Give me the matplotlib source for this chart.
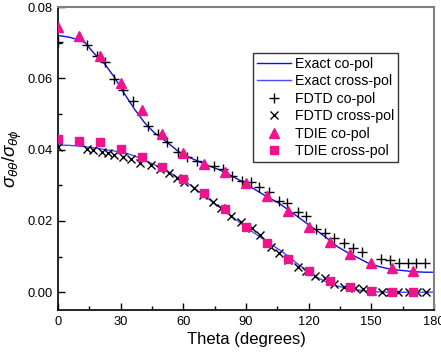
import matplotlib
matplotlib.use("Agg")
import matplotlib.pyplot as plt
from matplotlib.ticker import MultipleLocator

plt.rcParams['font.family'] = ['Liberation Sans', 'DejaVu Sans']
plt.rcParams['mathtext.fontset'] = 'custom'
plt.rcParams['mathtext.rm'] = 'Liberation Sans'
plt.rcParams['mathtext.it'] = 'Liberation Sans:italic'

# Exact solutions
exact_theta = [0, 5, 10, 13, 17.6, 22.4, 27, 32, 36.7, 41.4, 46, 52.4, 58, 63, 67.6, 72, 77, 82,
               86.7, 91, 96, 100, 105.7, 110, 115, 120, 124.8, 130, 134, 139, 143.8, 148, 153,
               158, 162.9, 168, 172, 176, 180]
exact_co = [0.0720, 0.0716, 0.0708, 0.0700, 0.0668, 0.0640, 0.0603, 0.0555, 0.0513, 0.0476,
            0.0448, 0.0420, 0.0393, 0.0378, 0.0366, 0.0355, 0.0344, 0.0330, 0.0315, 0.0300,
            0.0282, 0.0268, 0.0250, 0.0232, 0.0211, 0.0189, 0.0169, 0.0146, 0.0127, 0.0110,
            0.0096, 0.0083, 0.0073, 0.0066, 0.0062, 0.0059, 0.0057, 0.0056, 0.0056]
exact_cross = [0.0413, 0.0412, 0.0410, 0.0408, 0.0405, 0.0400, 0.0396, 0.0391, 0.0382, 0.0371,
               0.0358, 0.0340, 0.0319, 0.0302, 0.0282, 0.0262, 0.0240, 0.0218, 0.0197, 0.0178,
               0.0158, 0.0142, 0.0120, 0.0102, 0.0078, 0.0056, 0.0039, 0.0025, 0.0017, 0.0010,
               0.0006, 0.0003, 0.0001, 0.0000, 0.0000, 0.0000, 0.0000, 0.0000, 0.0000]

# FDTD
fdtd_co_theta = [0, 13.8, 18.6, 22.4, 26.7, 31, 35.7, 43.3, 48, 52.4, 57.6, 61.9, 66.7, 74.8,
                 79, 83.3, 88, 92.4, 96.2, 101, 105.7, 109.5, 114.8, 118.6, 123.3, 127.6, 132,
                 136.7, 141.4, 145.7, 154.8, 159, 163.3, 167.6, 171.4, 175.7]
fdtd_co = [0.0701, 0.0693, 0.0662, 0.0645, 0.0597, 0.0566, 0.0536, 0.0465, 0.0445, 0.0420,
           0.0394, 0.0380, 0.0369, 0.0355, 0.0346, 0.0327, 0.0313, 0.0310, 0.0294, 0.0282,
           0.0255, 0.0249, 0.0225, 0.0213, 0.0177, 0.0166, 0.0152, 0.0138, 0.0124, 0.0113,
           0.0093, 0.0090, 0.0082, 0.0082, 0.0082, 0.0082]
fdtd_cross_theta = [0, 13.8, 17, 21, 24, 27, 31, 35, 39.5, 44.7, 49, 53, 57, 60.5, 65, 69.5,
                    74, 78, 83, 87.5, 93, 96.7, 102, 105.7, 110, 114.8, 118.6, 123, 127.6, 132,
                    137, 142, 146, 150.5, 155, 159, 163, 168, 172, 176]
fdtd_cross = [0.0408, 0.0403, 0.0400, 0.0394, 0.0390, 0.0386, 0.0380, 0.0375, 0.0363, 0.0358,
              0.0346, 0.0335, 0.0321, 0.0310, 0.0293, 0.0273, 0.0254, 0.0237, 0.0214, 0.0197,
              0.0180, 0.0160, 0.0127, 0.0110, 0.0090, 0.0070, 0.0059, 0.0045, 0.0039, 0.0023,
              0.0014, 0.0011, 0.0008, 0.0003, 0.0000, 0.0000, 0.0000, 0.0000, 0.0000, 0.0000]

# TDIE
tdie_theta = [0, 10, 20, 30, 40, 50, 60, 70, 80, 90, 100, 110, 120, 130, 140, 150, 160, 170]
tdie_co = [0.0743, 0.0720, 0.0664, 0.0586, 0.0512, 0.0444, 0.0390, 0.0360, 0.0337, 0.0307,
           0.0271, 0.0229, 0.0183, 0.0142, 0.0108, 0.0083, 0.0068, 0.0059]
tdie_cross = [0.0431, 0.0425, 0.0420, 0.0403, 0.0380, 0.0352, 0.0317, 0.0279, 0.0234, 0.0183,
              0.0138, 0.0093, 0.0059, 0.0031, 0.0014, 0.0003, 0.0000, 0.0000]

pink = '#f0148c'

fig = plt.figure(figsize=(4.41, 3.53), dpi=100)
ax = fig.add_axes([0.1315, 0.1218, 0.8525, 0.8582])

ax.plot(exact_theta, exact_co, color='#1010e0', lw=1.0, label='Exact co-pol', zorder=2)
ax.plot(exact_theta, exact_cross, color='#4a4aff', lw=1.0, label='Exact cross-pol', zorder=2)
ax.plot(fdtd_co_theta, fdtd_co, ls='none', marker='+', ms=7, mew=1.0, color='black',
        label='FDTD co-pol', zorder=3)
ax.plot(fdtd_cross_theta, fdtd_cross, ls='none', marker='x', ms=6, mew=1.0, color='black',
        label='FDTD cross-pol', zorder=3)
ax.plot(tdie_theta, tdie_co, ls='none', marker='^', ms=7.5, color=pink, mec=pink,
        label='TDIE co-pol', zorder=4)
ax.plot(tdie_theta, tdie_cross, ls='none', marker='s', ms=5.5, color=pink, mec=pink,
        label='TDIE cross-pol', zorder=4)

ax.set_xlim(0, 180)
ax.set_ylim(-0.005, 0.08)
ax.xaxis.set_major_locator(MultipleLocator(30))
ax.xaxis.set_minor_locator(MultipleLocator(15))
ax.yaxis.set_major_locator(MultipleLocator(0.02))
ax.yaxis.set_minor_locator(MultipleLocator(0.01))
ax.yaxis.set_major_formatter(plt.FuncFormatter(lambda v, p: f'{v:.2f}'))
ax.tick_params(which='both', direction='in', top=False, right=False, labelsize=9.3, pad=4)
ax.tick_params(which='major', length=5, width=1)
ax.tick_params(which='minor', length=3, width=1)

for s in ['left', 'bottom']:
    ax.spines[s].set_color('black')
    ax.spines[s].set_linewidth(1.2)
for s in ['top', 'right']:
    ax.spines[s].set_color('#808080')
    ax.spines[s].set_linewidth(1.5)

ax.set_xlabel('Theta (degrees)', fontsize=12, labelpad=3)
ax.set_ylabel(r'$\sigma_{\theta\theta}/\sigma_{\theta\phi}$', fontsize=13.5, labelpad=2)

leg = ax.legend(loc='upper left', bbox_to_anchor=(0.519, 0.848), borderaxespad=0,
                fontsize=10.2, frameon=True, fancybox=False, edgecolor='black',
                labelspacing=0.25, handlelength=2.4, handletextpad=0.3,
                borderpad=0.25, numpoints=1)
leg.get_frame().set_linewidth(1.0)

fig.savefig('out.png', dpi=100)
